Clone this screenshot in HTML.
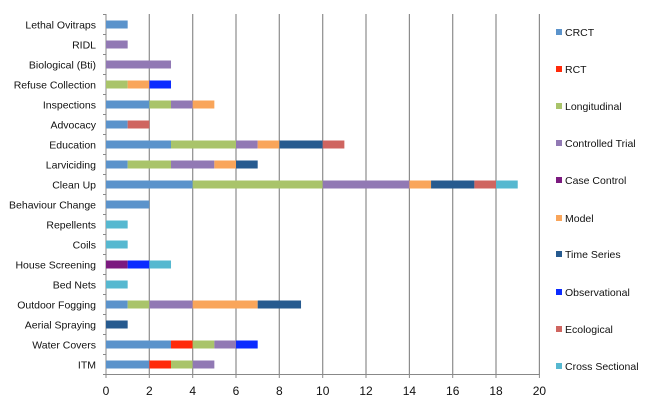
<!DOCTYPE html>
<html><head><style>
body{margin:0;background:#fff;}
svg text{font-family:"Liberation Sans",sans-serif;}
</style></head><body>
<svg width="648" height="408" xmlns="http://www.w3.org/2000/svg">
<rect width="648" height="408" fill="#fff"/>
<g stroke="#8c8c8c" stroke-width="1.2">
<line x1="149.3" y1="14" x2="149.3" y2="374"/><line x1="192.7" y1="14" x2="192.7" y2="374"/>
<line x1="236" y1="14" x2="236" y2="374"/><line x1="279.3" y1="14" x2="279.3" y2="374"/>
<line x1="322.7" y1="14" x2="322.7" y2="374"/><line x1="366" y1="14" x2="366" y2="374"/>
<line x1="409.4" y1="14" x2="409.4" y2="374"/><line x1="452.7" y1="14" x2="452.7" y2="374"/>
<line x1="496" y1="14" x2="496" y2="374"/><line x1="539.4" y1="14" x2="539.4" y2="374"/>
</g>
<g stroke="#888" stroke-width="1">
<line x1="106" y1="14" x2="106" y2="378"/><line x1="103" y1="374.5" x2="540" y2="374.5"/>
<line x1="149.3" y1="374" x2="149.3" y2="378"/><line x1="192.7" y1="374" x2="192.7" y2="378"/><line x1="236" y1="374" x2="236" y2="378"/><line x1="279.3" y1="374" x2="279.3" y2="378"/><line x1="322.7" y1="374" x2="322.7" y2="378"/><line x1="366" y1="374" x2="366" y2="378"/><line x1="409.4" y1="374" x2="409.4" y2="378"/><line x1="452.7" y1="374" x2="452.7" y2="378"/><line x1="496" y1="374" x2="496" y2="378"/><line x1="539.4" y1="374" x2="539.4" y2="378"/>
<line x1="103" y1="14.5" x2="106" y2="14.5"/><line x1="103" y1="34.5" x2="106" y2="34.5"/><line x1="103" y1="54.5" x2="106" y2="54.5"/><line x1="103" y1="74.5" x2="106" y2="74.5"/><line x1="103" y1="94.5" x2="106" y2="94.5"/><line x1="103" y1="114.5" x2="106" y2="114.5"/><line x1="103" y1="134.5" x2="106" y2="134.5"/><line x1="103" y1="154.5" x2="106" y2="154.5"/><line x1="103" y1="174.5" x2="106" y2="174.5"/><line x1="103" y1="194.5" x2="106" y2="194.5"/><line x1="103" y1="214.5" x2="106" y2="214.5"/><line x1="103" y1="234.5" x2="106" y2="234.5"/><line x1="103" y1="254.5" x2="106" y2="254.5"/><line x1="103" y1="274.5" x2="106" y2="274.5"/><line x1="103" y1="294.5" x2="106" y2="294.5"/><line x1="103" y1="314.5" x2="106" y2="314.5"/><line x1="103" y1="334.5" x2="106" y2="334.5"/><line x1="103" y1="354.5" x2="106" y2="354.5"/>
</g>
<g transform="translate(106,0) scale(21.67,1)">
<rect x="0" y="20.5" width="1" height="8" fill="#5b93cb"/>
<rect x="0" y="40.5" width="1" height="8" fill="#9179b4"/>
<rect x="0" y="60.5" width="3" height="8" fill="#9179b4"/>
<rect x="0" y="80.5" width="1" height="8" fill="#a9c46a"/><rect x="1" y="80.5" width="1" height="8" fill="#f9a55a"/><rect x="2" y="80.5" width="1" height="8" fill="#0b2bff"/>
<rect x="0" y="100.5" width="2" height="8" fill="#5b93cb"/><rect x="2" y="100.5" width="1" height="8" fill="#a9c46a"/><rect x="3" y="100.5" width="1" height="8" fill="#9179b4"/><rect x="4" y="100.5" width="1" height="8" fill="#f9a55a"/>
<rect x="0" y="120.5" width="1" height="8" fill="#5b93cb"/><rect x="1" y="120.5" width="1" height="8" fill="#cf6560"/>
<rect x="0" y="140.5" width="3" height="8" fill="#5b93cb"/><rect x="3" y="140.5" width="3" height="8" fill="#a9c46a"/><rect x="6" y="140.5" width="1" height="8" fill="#9179b4"/><rect x="7" y="140.5" width="1" height="8" fill="#f9a55a"/><rect x="8" y="140.5" width="2" height="8" fill="#265a8f"/><rect x="10" y="140.5" width="1" height="8" fill="#cf6560"/>
<rect x="0" y="160.5" width="1" height="8" fill="#5b93cb"/><rect x="1" y="160.5" width="2" height="8" fill="#a9c46a"/><rect x="3" y="160.5" width="2" height="8" fill="#9179b4"/><rect x="5" y="160.5" width="1" height="8" fill="#f9a55a"/><rect x="6" y="160.5" width="1" height="8" fill="#265a8f"/>
<rect x="0" y="180.5" width="4" height="8" fill="#5b93cb"/><rect x="4" y="180.5" width="6" height="8" fill="#a9c46a"/><rect x="10" y="180.5" width="4" height="8" fill="#9179b4"/><rect x="14" y="180.5" width="1" height="8" fill="#f9a55a"/><rect x="15" y="180.5" width="2" height="8" fill="#265a8f"/><rect x="17" y="180.5" width="1" height="8" fill="#cf6560"/><rect x="18" y="180.5" width="1" height="8" fill="#56b8d0"/>
<rect x="0" y="200.5" width="2" height="8" fill="#5b93cb"/>
<rect x="0" y="220.5" width="1" height="8" fill="#56b8d0"/>
<rect x="0" y="240.5" width="1" height="8" fill="#56b8d0"/>
<rect x="0" y="260.5" width="1" height="8" fill="#7b1a7f"/><rect x="1" y="260.5" width="1" height="8" fill="#0b2bff"/><rect x="2" y="260.5" width="1" height="8" fill="#56b8d0"/>
<rect x="0" y="280.5" width="1" height="8" fill="#56b8d0"/>
<rect x="0" y="300.5" width="1" height="8" fill="#5b93cb"/><rect x="1" y="300.5" width="1" height="8" fill="#a9c46a"/><rect x="2" y="300.5" width="2" height="8" fill="#9179b4"/><rect x="4" y="300.5" width="3" height="8" fill="#f9a55a"/><rect x="7" y="300.5" width="2" height="8" fill="#265a8f"/>
<rect x="0" y="320.5" width="1" height="8" fill="#265a8f"/>
<rect x="0" y="340.5" width="3" height="8" fill="#5b93cb"/><rect x="3" y="340.5" width="1" height="8" fill="#ff2a0a"/><rect x="4" y="340.5" width="1" height="8" fill="#a9c46a"/><rect x="5" y="340.5" width="1" height="8" fill="#9179b4"/><rect x="6" y="340.5" width="1" height="8" fill="#0b2bff"/>
<rect x="0" y="360.5" width="2" height="8" fill="#5b93cb"/><rect x="2" y="360.5" width="1" height="8" fill="#ff2a0a"/><rect x="3" y="360.5" width="1" height="8" fill="#a9c46a"/><rect x="4" y="360.5" width="1" height="8" fill="#9179b4"/>
</g>
<g font-size="10.5" fill="#111" text-anchor="end">
<text x="96" y="28.5">Lethal Ovitraps</text>
<text x="96" y="48.5">RIDL</text>
<text x="96" y="68.5">Biological (Bti)</text>
<text x="96" y="88.5">Refuse Collection</text>
<text x="96" y="108.5">Inspections</text>
<text x="96" y="128.5">Advocacy</text>
<text x="96" y="148.5">Education</text>
<text x="96" y="168.5">Larviciding</text>
<text x="96" y="188.5">Clean Up</text>
<text x="96" y="208.5">Behaviour Change</text>
<text x="96" y="228.5">Repellents</text>
<text x="96" y="248.5">Coils</text>
<text x="96" y="268.5">House Screening</text>
<text x="96" y="288.5">Bed Nets</text>
<text x="96" y="308.5">Outdoor Fogging</text>
<text x="96" y="328.5">Aerial Spraying</text>
<text x="96" y="348.5">Water Covers</text>
<text x="96" y="368.5">ITM</text>
</g>
<g font-size="12" fill="#111" text-anchor="middle">
<text x="106" y="395">0</text>
<text x="149.3" y="395">2</text>
<text x="192.7" y="395">4</text>
<text x="236" y="395">6</text>
<text x="279.3" y="395">8</text>
<text x="322.7" y="395">10</text>
<text x="366" y="395">12</text>
<text x="409.4" y="395">14</text>
<text x="452.7" y="395">16</text>
<text x="496" y="395">18</text>
<text x="539.4" y="395">20</text>
</g>
<g font-size="10.5" fill="#111">
<rect x="556" y="29" width="6" height="6" fill="#5b93cb"/><text x="565" y="36">CRCT</text>
<rect x="556" y="66" width="6" height="6" fill="#ff2a0a"/><text x="565" y="73">RCT</text>
<rect x="556" y="103" width="6" height="6" fill="#a9c46a"/><text x="565" y="110">Longitudinal</text>
<rect x="556" y="140" width="6" height="6" fill="#9179b4"/><text x="565" y="147">Controlled Trial</text>
<rect x="556" y="177" width="6" height="6" fill="#7b1a7f"/><text x="565" y="184">Case Control</text>
<rect x="556" y="215" width="6" height="6" fill="#f9a55a"/><text x="565" y="222">Model</text>
<rect x="556" y="251" width="6" height="6" fill="#265a8f"/><text x="565" y="258">Time Series</text>
<rect x="556" y="289" width="6" height="6" fill="#0b2bff"/><text x="565" y="296">Observational</text>
<rect x="556" y="326" width="6" height="6" fill="#cf6560"/><text x="565" y="333">Ecological</text>
<rect x="556" y="363" width="6" height="6" fill="#56b8d0"/><text x="565" y="370">Cross Sectional</text>
</g>
</svg>
</body></html>
